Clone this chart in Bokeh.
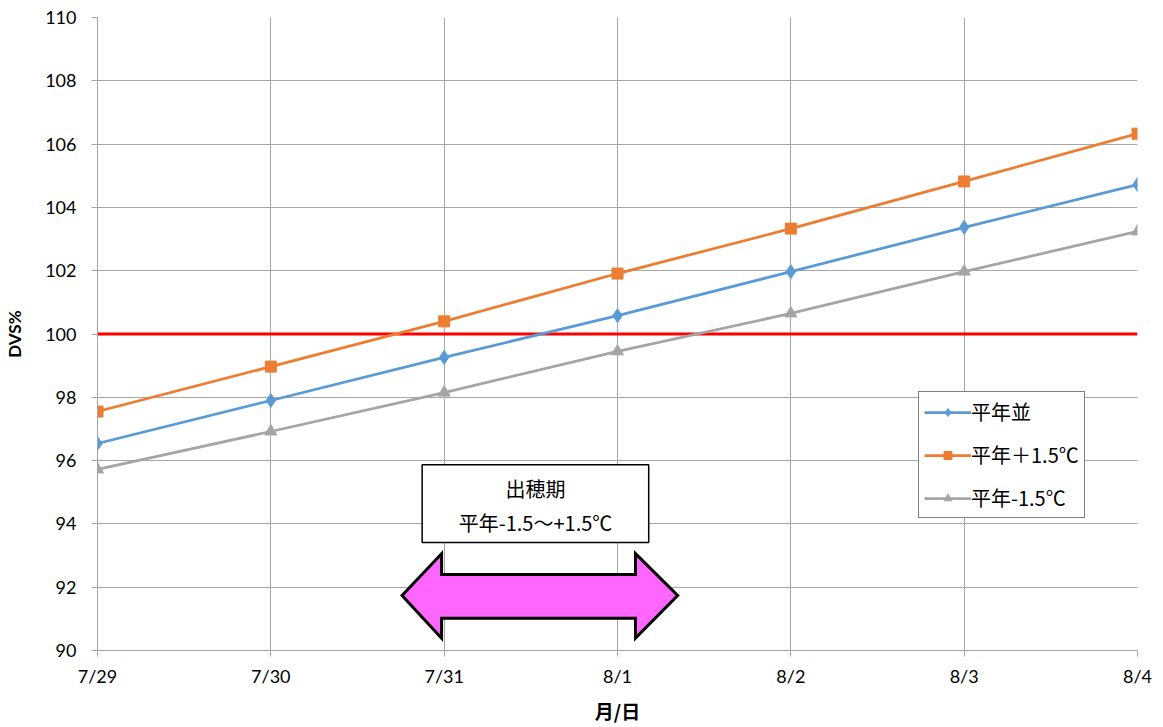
from bokeh.plotting import figure
from bokeh.models import Legend, LegendItem, Range1d, FixedTicker
from bokeh.core.properties import value
from bokeh.embed import file_html
from bokeh.resources import INLINE

dates = ["7/29", "7/30", "7/31", "8/1", "8/2", "8/3", "8/4"]
normal = [96.54, 97.90, 99.26, 100.58, 101.97, 103.37, 104.72]
plus15 = [97.55, 98.97, 100.40, 101.91, 103.33, 104.82, 106.33]
minus15 = [95.72, 96.92, 98.15, 99.45, 100.65, 101.97, 103.24]
threshold = 100
y_ticks = list(range(90, 111, 2))

JP = "Noto Sans CJK JP"
NUM = "Lato"

xs = list(range(len(dates)))

p = figure(width=1155, height=727, output_backend="svg", toolbar_location=None,
           x_range=Range1d(0, len(dates) - 1), y_range=Range1d(90, 110),
           min_border_left=97, min_border_right=18, min_border_top=17, min_border_bottom=77)
p.outline_line_color = None

# axes
p.xaxis.ticker = FixedTicker(ticks=xs)
p.xaxis.major_label_overrides = {i: d for i, d in enumerate(dates)}
p.yaxis.ticker = FixedTicker(ticks=y_ticks)
for ax in (p.xaxis, p.yaxis):
    ax.axis_line_color = "#a6a6a6"
    ax.major_tick_line_color = "#a6a6a6"
    ax.major_tick_out = 6
    ax.major_tick_in = 0
    ax.minor_tick_line_color = None
    ax.major_label_text_font = NUM
    ax.major_label_text_font_size = "18px"
    ax.major_label_text_color = "#000000"
    ax.axis_label_text_font_style = "bold"
    ax.axis_label_text_color = "#000000"
p.yaxis.major_label_standoff = 15
p.xaxis.major_label_standoff = 8
p.xaxis.axis_label = "月/日"
p.xaxis.axis_label_text_font = JP
p.xaxis.axis_label_text_font_size = "19px"
p.xaxis.axis_label_standoff = 7
p.yaxis.axis_label = "DVS%"
p.yaxis.axis_label_text_font = NUM
p.yaxis.axis_label_text_font_size = "17px"
p.yaxis.axis_label_standoff = 17

p.xgrid.grid_line_color = "#a6a6a6"
p.ygrid.grid_line_color = "#a6a6a6"
p.xgrid.ticker = FixedTicker(ticks=xs)
p.ygrid.ticker = FixedTicker(ticks=y_ticks)

# threshold line
p.line([xs[0], xs[-1]], [threshold, threshold], line_color="#ff0000", line_width=3)

# series
blue, orange, gray = "#5b9bd5", "#ed7d31", "#a5a5a5"
l1 = p.line(xs, normal, line_color=blue, line_width=2.75)
m1 = p.scatter(xs, normal, marker="diamond", size=14, fill_color=blue, line_color=blue)
l2 = p.line(xs, plus15, line_color=orange, line_width=2.75)
m2 = p.scatter(xs, plus15, marker="square", size=11, fill_color=orange, line_color=orange)
l3 = p.line(xs, minus15, line_color=gray, line_width=2.75)
m3 = p.scatter(xs, minus15, marker="triangle", size=12, fill_color=gray, line_color=gray)

legend = Legend(items=[
    LegendItem(label="平年並", renderers=[l1, m1]),
    LegendItem(label="平年＋1.5℃", renderers=[l2, m2]),
    LegendItem(label="平年-1.5℃", renderers=[l3, m3]),
], location=(821, 132))
legend.label_text_font = JP
legend.label_text_font_size = "20px"
legend.label_text_color = "#000000"
legend.border_line_color = "#000000"
legend.border_line_width = 1.5
legend.background_fill_color = "#ffffff"
legend.background_fill_alpha = 1
legend.glyph_width = 47
legend.glyph_height = 20
legend.label_height = 20
legend.label_standoff = 0
legend.spacing = 14
legend.padding = 5
legend.margin = 0
p.add_layout(legend, "center")

# annotation box
p.quad(left=1.873, right=3.18, bottom=93.41, top=95.87,
       fill_color="#ffffff", line_color="#000000", line_width=1.5)
p.text(x=[2.527, 2.527], y=[95.12, 94.05], text=["出穂期", "平年-1.5～+1.5℃"],
       text_font=value(JP), text_font_size="20px", text_align="center",
       text_baseline="middle", text_color="#000000")

# double arrow
ax_ = [1.757, 1.985, 1.985, 3.104, 3.104, 3.347, 3.104, 3.104, 1.985, 1.985]
ay_ = [91.74, 93.06, 92.40, 92.40, 93.06, 91.74, 90.39, 91.02, 91.02, 90.39]
p.patch(ax_, ay_, fill_color="#ff66ff", line_color="#000000", line_width=3, line_join="miter")

open("out.html", "w").write(file_html(p, INLINE))
